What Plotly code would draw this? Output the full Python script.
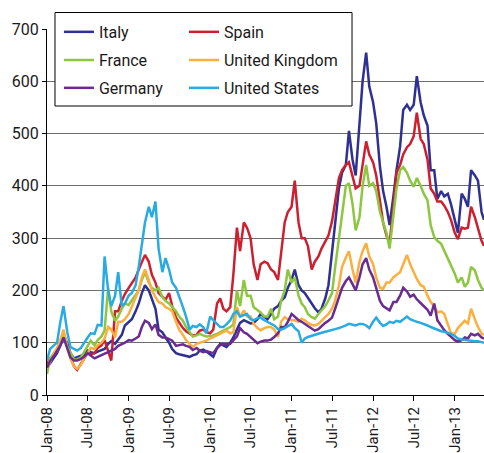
import pandas as pd
import plotly.graph_objects as go

# semi-monthly sample dates (1st and 15th), Jan-2008 .. May-2013, plus last observation
dates = list(pd.date_range("2008-01-01", "2013-05-01", freq="SMS")) + [pd.Timestamp("2013-05-12")]

italy = [52, 60, 70, 80, 95, 110, 100, 80, 70, 72,
         75, 78, 85, 82, 80, 83, 85, 88, 98, 103,
         98, 105, 115, 133, 140, 145, 160, 175, 195, 210,
         200, 185, 165, 125, 120, 110, 100, 88, 80, 78,
         76, 74, 73, 76, 78, 85, 87, 83, 78, 73,
         90, 98, 95, 92, 100, 110, 125, 138, 143, 140,
         137, 138, 145, 155, 150, 145, 155, 165, 170, 180,
         187, 205, 220, 240, 210, 200, 195, 187, 175, 166,
         158, 165, 185, 210, 275, 335, 395, 425, 440, 505,
         450, 420, 520, 600, 655, 590, 560, 520, 436, 390,
         360, 325, 380, 430, 475, 545, 555, 545, 555, 610,
         560, 535, 515, 430, 430, 375, 390, 380, 385, 365,
         335, 310, 385, 375, 360, 430, 420, 410, 350, 335]

spain = [59, 70, 78, 82, 100, 120, 95, 72, 55, 48,
         60, 70, 80, 78, 80, 90, 95, 105, 85, 66,
         160, 160, 180, 193, 205, 213, 225, 240, 255, 268,
         255, 230, 215, 195, 188, 182, 195, 170, 148, 138,
         128, 122, 118, 114, 115, 123, 125, 120, 118, 125,
         175, 185, 165, 160, 168, 230, 320, 275, 330, 320,
         300, 250, 220, 250, 255, 252, 240, 235, 220, 270,
         330, 350, 360, 410, 330, 300, 300, 285, 240, 255,
         265, 280, 295, 305, 332, 370, 415, 430, 440, 445,
         415, 395, 400, 440, 485, 460, 445, 420, 372, 330,
         305, 290, 360, 425, 440, 460, 474, 480, 495, 540,
         490, 480, 450, 395, 385, 370, 370, 362, 350, 335,
         310, 298, 320, 318, 320, 360, 340, 318, 295, 285]

france = [40, 70, 80, 85, 100, 117, 92, 80, 68, 68,
          72, 82, 95, 104, 95, 105, 112, 123, 205, 160,
          142, 150, 165, 175, 172, 180, 190, 200, 220, 235,
          215, 205, 200, 205, 187, 180, 175, 168, 160, 150,
          142, 130, 120, 112, 114, 117, 114, 112, 113, 114,
          117, 120, 124, 127, 130, 135, 200, 170, 220, 190,
          190, 168, 162, 158, 150, 150, 165, 145, 150, 180,
          200, 240, 215, 225, 190, 175, 168, 155, 149, 146,
          155, 162, 170, 181, 195, 244, 300, 350, 400, 405,
          365, 315, 340, 400, 440, 400, 405, 390, 350, 330,
          310, 280, 340, 395, 430, 436, 425, 410, 398, 415,
          400, 385, 372, 325, 302, 295, 289, 276, 258, 245,
          232, 215, 225, 207, 215, 245, 238, 220, 205, 200]

uk = [50, 65, 80, 90, 105, 125, 90, 70, 55, 50,
      58, 70, 80, 90, 88, 95, 100, 108, 130, 125,
      110, 140, 140, 145, 155, 168, 185, 200, 225, 240,
      220, 200, 187, 178, 175, 168, 165, 160, 140, 125,
      115, 105, 98, 92, 98, 100, 102, 104, 108, 111,
      114, 117, 120, 123, 118, 120, 168, 150, 162, 150,
      150, 136, 128, 124, 128, 130, 130, 125, 111, 140,
      149, 145, 143, 143, 140, 146, 143, 138, 134, 133,
      136, 142, 148, 155, 165, 181, 210, 245, 263, 275,
      240, 215, 255, 275, 290, 265, 250, 225, 205, 203,
      215, 215, 225, 230, 235, 250, 268, 250, 235, 222,
      210, 207, 190, 178, 170, 158, 160, 155, 135, 118,
      117, 128, 136, 142, 137, 165, 145, 130, 118, 115]

germany = [52, 65, 75, 85, 95, 110, 88, 72, 66, 66,
           69, 73, 80, 75, 70, 73, 76, 80, 82, 85,
           88, 94, 97, 100, 105, 104, 108, 112, 130, 142,
           138, 126, 135, 115, 110, 110, 107, 104, 94, 96,
           97, 94, 92, 86, 90, 85, 82, 84, 82, 80,
           90, 95, 98, 97, 98, 105, 112, 128, 120, 117,
           111, 105, 99, 102, 104, 104, 106, 111, 118, 130,
           130, 140, 155, 150, 143, 140, 136, 132, 126, 123,
           126, 132, 138, 142, 148, 165, 185, 205, 218, 225,
           212, 200, 225, 250, 262, 240, 225, 205, 180, 170,
           165, 162, 178, 178, 190, 205, 198, 188, 192, 183,
           176, 170, 163, 152, 175, 143, 132, 124, 117, 111,
           105, 102, 105, 110, 108, 117, 114, 117, 110, 108]

us = [66, 88, 95, 100, 140, 170, 120, 92, 88, 85,
      90, 100, 110, 118, 117, 134, 133, 265, 200, 170,
      190, 235, 170, 175, 190, 195, 210, 245, 285, 330,
      360, 340, 370, 280, 235, 262, 240, 215, 205, 190,
      168, 150, 125, 132, 130, 135, 130, 118, 150, 143,
      135, 130, 130, 135, 143, 155, 160, 150, 153, 155,
      145, 143, 147, 148, 143, 140, 137, 133, 126, 125,
      128, 132, 136, 128, 122, 100, 108, 111, 113, 114,
      117, 119, 121, 123, 124, 126, 128, 130, 133, 136,
      135, 133, 136, 136, 133, 128, 140, 148, 138, 132,
      135, 140, 138, 142, 140, 145, 150, 145, 142, 140,
      138, 136, 133, 130, 127, 124, 122, 121, 119, 117,
      113, 108, 106, 105, 104, 104, 103, 103, 102, 100]

series_names = ["Italy", "Spain", "France", "United Kingdom", "Germany", "United States"]
series_values = [italy, spain, france, uk, germany, us]
series_colors = ["#2E3192", "#CC2031", "#8DC63F", "#FBAF3F", "#6A2C91", "#29ABE2"]

tick_dates = ["2008-01-01", "2008-07-01", "2009-01-01", "2009-07-01", "2010-01-01",
              "2010-07-01", "2011-01-01", "2011-07-01", "2012-01-01", "2012-07-01", "2013-01-01"]
tick_labels = ["Jan-08", "Jul-08", "Jan-09", "Jul-09", "Jan-10",
               "Jul-10", "Jan-11", "Jul-11", "Jan-12", "Jul-12", "Jan-13"]

FONT = "Roboto, 'Open Sans', sans-serif"
TXT = "#1a1a1a"

# legend slots in paper coordinates (two columns, three rows)
COL1, COL2 = 0.0273, 0.3135
ROW1, ROW2, ROW3 = 0.992, 0.915, 0.839
legend_pos = {
    "legend": (COL1, ROW1),
    "legend3": (COL1, ROW2),
    "legend5": (COL1, ROW3),
    "legend2": (COL2, ROW1),
    "legend4": (COL2, ROW2),
    "legend6": (COL2, ROW3),
}
# Italy->legend, Spain->legend2, France->legend3, UK->legend4, Germany->legend5, US->legend6
trace_legend = ["legend", "legend2", "legend3", "legend4", "legend5", "legend6"]

fig = go.Figure()
for name, vals, col, lid in zip(series_names, series_values, series_colors, trace_legend):
    fig.add_trace(go.Scatter(x=dates, y=vals, mode="lines", name=name,
                             line=dict(color=col, width=2.5), legend=lid))

layout_legends = {}
for lid, (lx, ly) in legend_pos.items():
    layout_legends[lid] = dict(x=lx, y=ly, xanchor="left", yanchor="middle",
                               bgcolor="rgba(0,0,0,0)", borderwidth=0,
                               font=dict(family=FONT, size=16, color=TXT))

fig.update_layout(
    width=484, height=453,
    margin=dict(l=47, r=0, t=29, b=58, autoexpand=False),
    paper_bgcolor="white", plot_bgcolor="white",
    showlegend=True,
    **layout_legends,
    xaxis=dict(type="date", range=["2008-01-01", "2013-05-12"], automargin=False,
               tickvals=tick_dates, ticktext=tick_labels, tickangle=-90,
               ticks="outside", ticklen=5, tickcolor="black",
               showline=True, linecolor="black", linewidth=1,
               showgrid=False, zeroline=False,
               tickfont=dict(family=FONT, size=15, color=TXT)),
    yaxis=dict(range=[0, 700], dtick=100, tick0=0, automargin=False,
               ticks="outside", ticklen=4, tickcolor="black",
               showline=True, linecolor="black", linewidth=1,
               showgrid=True, gridcolor="#6e6e6e", gridwidth=1, zeroline=False,
               tickfont=dict(family=FONT, size=16, color=TXT)),
    shapes=[dict(type="rect", xref="paper", yref="paper",
                 x0=0.0183, x1=0.698, y0=0.7896, y1=1.045,
                 line=dict(color="black", width=1), fillcolor="white", layer="above")],
)

fig.write_html(
    "out.html",
    config={"displayModeBar": False},
    post_script="document.body.style.margin='0';document.body.style.padding='0';"
                "document.body.style.overflow='hidden';",
)
